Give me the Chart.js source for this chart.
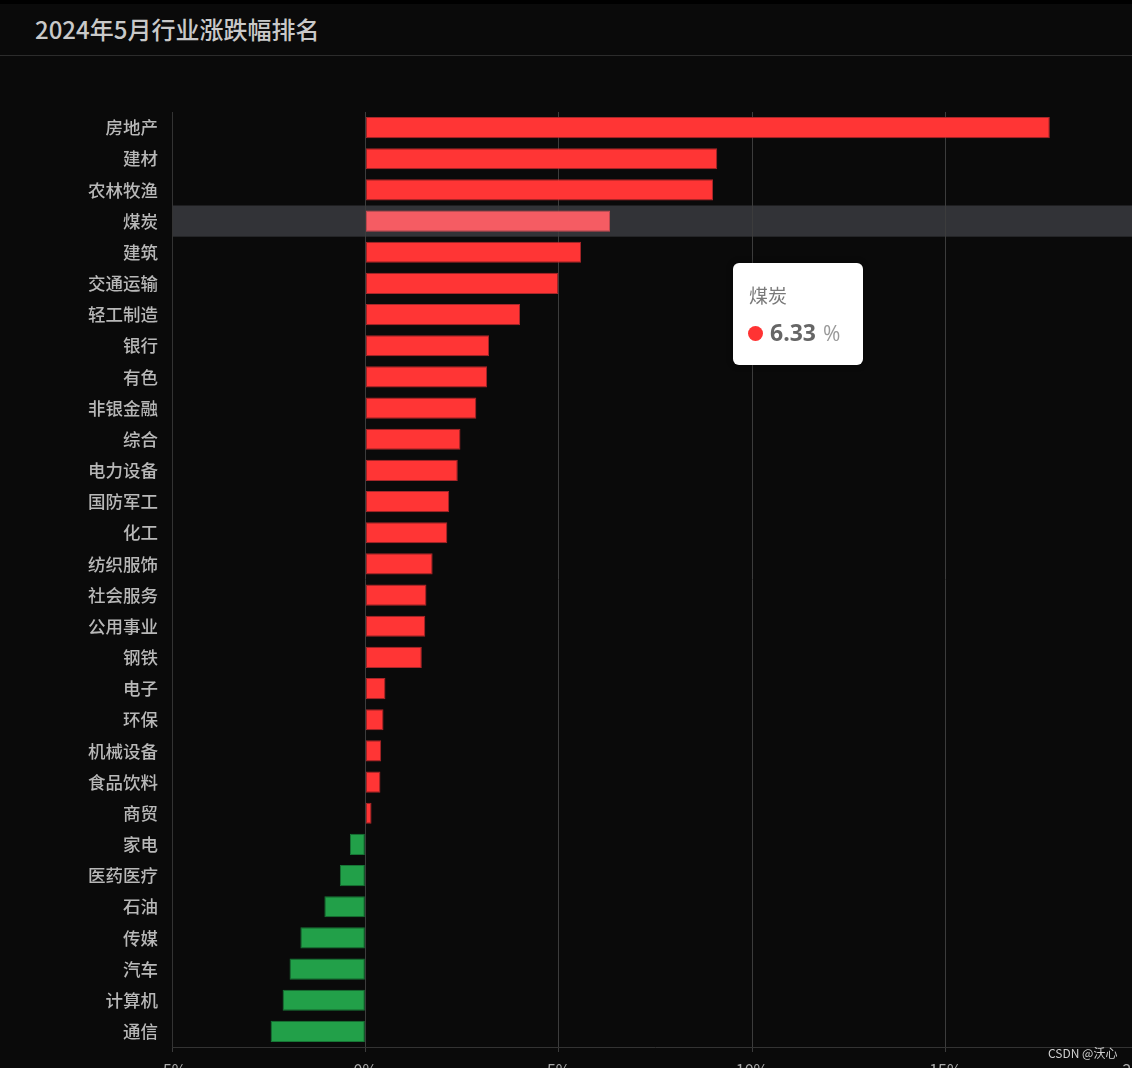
<!DOCTYPE html>
<html><head><meta charset="utf-8">
<script src="https://cdn.jsdelivr.net/npm/chart.js@4/dist/chart.umd.min.js"></script>
<style>
html,body{margin:0;padding:0;background:#0a0a0a;overflow:hidden;width:1132px;height:1068px;font-family:"Noto Sans CJK SC","Noto Sans",sans-serif;}
#topbar{position:absolute;left:0;top:0;width:1132px;height:4px;background:#000;}
#title{position:absolute;left:0;top:0;width:1132px;height:55px;border-bottom:1px solid #2c2c2c;}
#title span{position:absolute;left:35px;top:12px;font-size:24px;color:#c9c9c9;line-height:34px;font-weight:500;}
#wrap{position:absolute;left:0;top:56px;width:1163px;height:1031px;}
#tip{position:absolute;left:733px;top:263px;width:130px;height:102px;background:#fff;border-radius:6px;box-shadow:0 0 6px rgba(0,0,0,0.4);box-sizing:border-box;}
#tip .t{position:absolute;left:16px;top:19px;font-size:19px;color:#7a7a7a;line-height:26px;}
#tip .dot{position:absolute;left:15px;top:63px;width:15px;height:15px;border-radius:50%;background:#ff3333;}
#tip .v{position:absolute;left:37px;top:54px;font-size:23px;font-weight:bold;color:#666;line-height:30px;font-family:"Open Sans","Noto Sans",sans-serif;}
#tip .u{font-weight:normal;color:#999;font-size:21px;margin-left:7px;}
#wm{position:absolute;left:1048px;top:1044px;font-size:12px;color:#cfcfcf;}
</style></head>
<body>
<div id="topbar"></div>
<div id="title"><span>2024年5月行业涨跌幅排名</span></div>
<div id="wrap"><canvas id="c"></canvas></div>
<div id="tip"><div class="t" id="tipTitle"></div><div class="dot"></div><div class="v" id="tipVal"></div></div>
<div id="wm">CSDN @沃心</div>
<script>
const categories = ['房地产','建材','农林牧渔','煤炭','建筑','交通运输','轻工制造','银行','有色','非银金融','综合','电力设备','国防军工','化工','纺织服饰','社会服务','公用事业','钢铁','电子','环保','机械设备','食品饮料','商贸','家电','医药医疗','石油','传媒','汽车','计算机','通信'];
const changes = [17.70,9.10,8.99,6.33,5.58,4.99,4.00,3.20,3.15,2.87,2.46,2.39,2.17,2.12,1.74,1.58,1.55,1.46,0.52,0.47,0.41,0.39,0.16,-0.40,-0.66,-1.06,-1.68,-1.96,-2.14,-2.45];
const xTickValues = [-5,0,5,10,15,20];
const highlighted = '煤炭';

const hi = categories.indexOf(highlighted);
const fills = changes.map((v,i)=> i===hi ? '#f55c63' : (v>=0 ? '#ff3535' : '#22a049'));
const borders = changes.map((v,i)=> i===hi ? '#c94a50' : (v>=0 ? '#a8272a' : '#177535'));

document.getElementById('tipTitle').textContent = categories[hi];
document.getElementById('tipVal').innerHTML = changes[hi].toFixed(2) + '<span class="u">%</span>';

const bandPlugin = {
  id:'band',
  beforeDraw(chart){
    const y = chart.scales.y, a = chart.chartArea, ctx = chart.ctx;
    const c = y.getPixelForValue(hi);
    const h = (a.bottom - a.top)/categories.length;
    ctx.save();
    ctx.fillStyle = '#323337';
    ctx.fillRect(a.left, c - h/2, chart.width - a.left, h);
    ctx.restore();
  }
};

new Chart(document.getElementById('c'), {
  type:'bar',
  data:{labels:categories, datasets:[{data:changes, backgroundColor:fills, borderColor:borders, borderWidth:1, borderSkipped:false, categoryPercentage:1, barPercentage:0.68}]},
  options:{
    indexAxis:'y', responsive:true, maintainAspectRatio:false, animation:false,
    events:[],
    layout:{padding:{top:56,left:0,right:0,bottom:0}},
    plugins:{legend:{display:false}, tooltip:{enabled:false}},
    scales:{
      x:{min:-5,max:20,
        afterBuildTicks(s){s.ticks = xTickValues.map(v=>({value:v}));},
        afterFit(s){s.height = 40;},
        grid:{color:'#3c3c3c', lineWidth:1, tickLength:5, tickColor:'#3c3c3c'},
        border:{display:true,color:'#333',width:1},
        ticks:{color:'#aaa', padding:8, font:{size:16,family:'"Noto Sans CJK SC"'}, callback:v=>v+'%'}
      },
      y:{
        afterFit(s){s.width = 172;},
        grid:{display:false, drawTicks:false},
        border:{display:true,color:'#333',width:1},
        ticks:{color:'#b8b8b8', padding:14, autoSkip:false, font:{size:17.5,weight:'500',family:'"Noto Sans CJK SC"'}}
      }
    }
  },
  plugins:[bandPlugin]
});
</script>
</body></html>
